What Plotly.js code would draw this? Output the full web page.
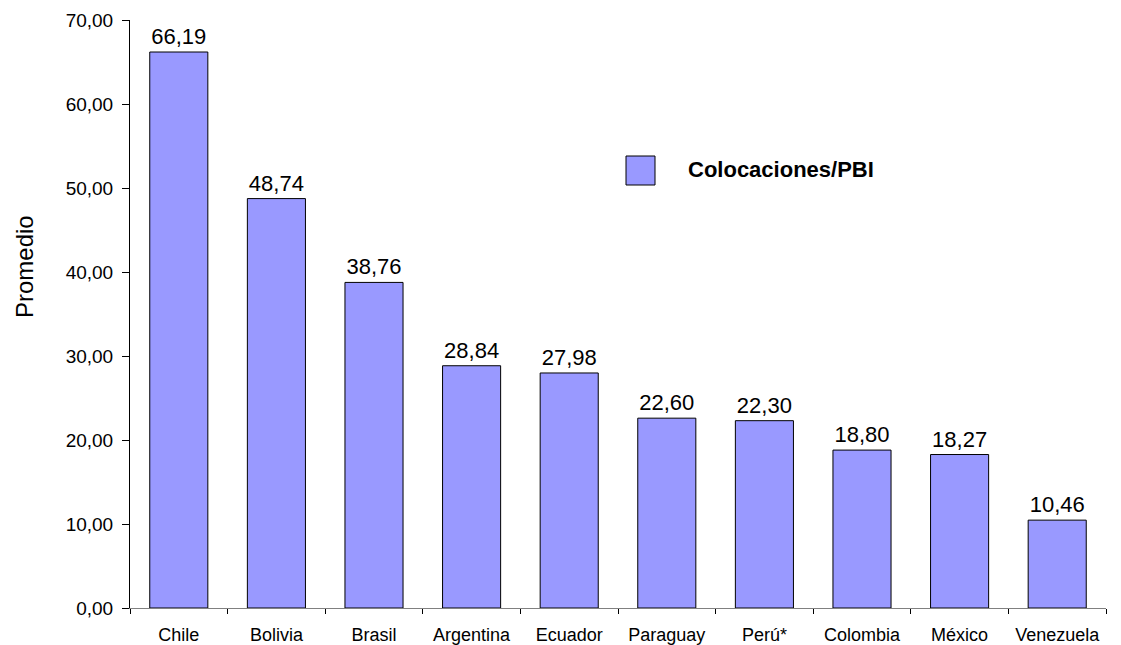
<!DOCTYPE html>
<html><head><meta charset="utf-8">
<script src="https://cdn.plot.ly/plotly-3.0.1.min.js"></script>
<style>body{margin:0;background:#fff}#c{width:1121px;height:645px}</style>
</head><body><div id="c"></div>
<script>
const countries = ["Chile","Bolivia","Brasil","Argentina","Ecuador","Paraguay","Perú*","Colombia","México","Venezuela"];
const values = [66.19,48.74,38.76,28.84,27.98,22.60,22.30,18.80,18.27,10.46];
const seriesName = "Colocaciones/PBI";
const yTitle = "Promedio";
const yTicks = [0,10,20,30,40,50,60,70];

const trace = {
  type: "bar", x: countries, y: values, name: seriesName,
  marker: {color: "#9999FF", line: {color: "#000", width: 1}},
  texttemplate: "%{y:.2f}", textposition: "outside", cliponaxis: false,
  textfont: {family: "Liberation Sans, Arial, sans-serif", size: 22, color: "#000"},
  showlegend: false, hoverinfo: "none"
};
const layout = {
  width: 1121, height: 645,
  margin: {l: 130, r: 15, t: 20, b: 37},
  separators: ",.",
  paper_bgcolor: "#fff", plot_bgcolor: "#fff",
  font: {family: "Liberation Sans, Arial, sans-serif", color: "#000", size: 18},
  bargap: 0.405,
  xaxis: {
    showgrid: false, showline: true, linecolor: "#808080", linewidth: 1,
    ticks: "outside", tickson: "boundaries", ticklen: 5, tickcolor: "#000",
    tickfont: {size: 18}, ticklabelstandoff: 10, fixedrange: true
  },
  yaxis: {
    range: [0, 70], tickvals: yTicks, tickformat: ".2f",
    showgrid: false, zeroline: false, showline: true, linecolor: "#000", linewidth: 1,
    ticks: "outside", ticklen: 7, tickcolor: "#000", tickfont: {size: 19},
    ticklabelstandoff: 5
  },
  shapes: [{type: "rect", xref: "paper", yref: "paper",
    x0: (626-130)/976, x1: (655-130)/976, y0: (608-185)/588, y1: (608-156)/588,
    fillcolor: "#9999FF", line: {color: "#000", width: 1}}],
  annotations: [
    {xref: "paper", yref: "paper", x: (686-130)/976, y: (608-170)/588,
     xanchor: "left", yanchor: "middle", showarrow: false,
     text: "<b>" + seriesName + "</b>", font: {size: 22, color: "#000"}},
    {xref: "paper", yref: "paper", x: (24-130)/976, y: (608-267)/588,
     xanchor: "center", yanchor: "middle", showarrow: false, textangle: -90,
     text: yTitle, font: {size: 24, color: "#000"}}
  ]
};
Plotly.newPlot("c", [trace], layout, {displayModeBar: false, staticPlot: true});
</script></body></html>
